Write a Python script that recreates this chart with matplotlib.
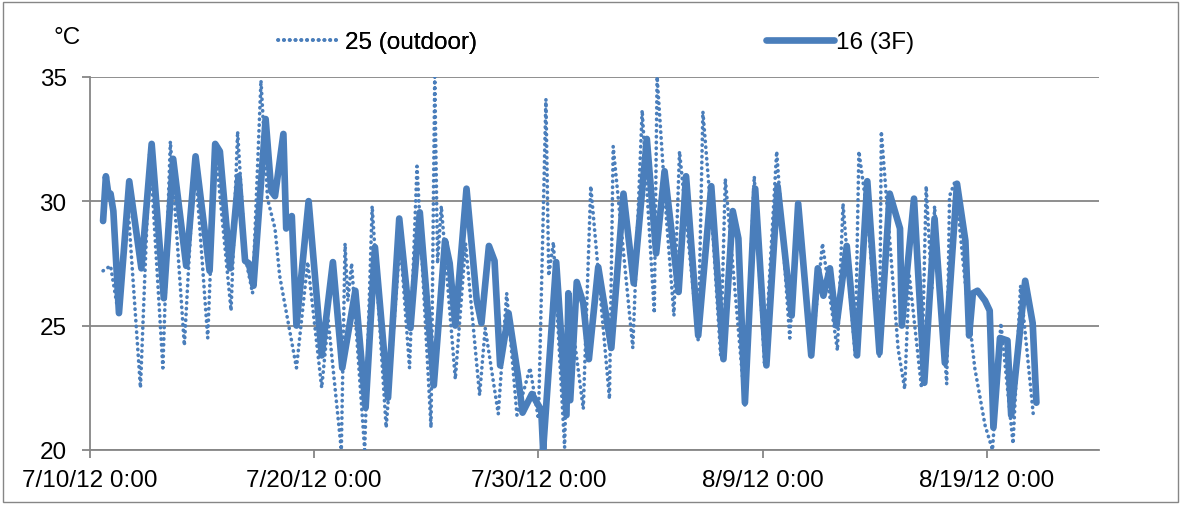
import matplotlib
matplotlib.use("Agg")
import matplotlib.pyplot as plt
from matplotlib.lines import Line2D
from matplotlib.patches import Rectangle
import pandas as pd

plt.rcParams['font.family'] = ['Liberation Sans', 'DejaVu Sans']

START = pd.Timestamp("2012-07-10 00:00")

# Outdoor sensor 25: hours since start, temperature (°C)
outdoor_hours = [14, 22, 29, 41, 54, 64, 78, 86, 101, 112, 126, 134, 151, 158, 166, 174,
                 183, 190, 198, 203, 221, 233, 248, 255, 269, 273, 276, 280, 294, 302,
                 317, 332, 342, 350, 365, 369, 372, 376, 391, 402, 417, 423, 437, 446,
                 457, 471, 480, 488, 491, 496, 508, 512, 528, 536, 556, 560, 581, 591,
                 604, 607, 617, 625, 631, 651, 656, 667, 675, 680, 701, 711, 722, 735,
                 749, 758, 772, 784, 800, 806, 819, 823, 832, 845, 847, 865, 872, 877,
                 890, 895, 901, 904, 917, 920, 926, 936, 947, 958, 966, 975, 988, 996,
                 1010]
outdoor_temp = [27.2, 27.4, 25.8, 29.6, 22.5, 32.1, 23.3, 32.4, 24.2, 31.8, 24.5, 32.2,
                25.6, 32.8, 27.8, 26.3, 34.85, 30.1, 28.9, 27.0, 23.3, 27.55, 22.5, 25.2,
                20.0, 28.3, 26.0, 27.5, 20.0, 29.8, 20.9, 28.4, 23.3, 31.4, 20.9, 35.0,
                27.5, 29.8, 22.85, 28.3, 22.2, 24.9, 21.45, 26.3, 21.4, 23.3, 21.25, 34.1,
                27.0, 28.35, 20.1, 26.3, 21.65, 30.6, 22.05, 32.2, 24.1, 33.65, 25.5, 35.0,
                29.3, 25.4, 32.0, 24.4, 33.6, 28.5, 23.8, 30.9, 21.8, 31.0, 23.4, 32.0,
                24.5, 29.8, 23.65, 28.3, 24.0, 29.9, 23.8, 32.0, 29.5, 23.7, 32.8, 24.06,
                22.45, 27.0, 22.5, 30.6, 26.5, 29.8, 22.65, 30.2, 30.8, 27.0, 23.3, 21.0,
                20.0, 25.1, 20.25, 26.6, 21.3]

# Indoor sensor 16 on the 3rd floor: hours since start, temperature (°C)
floor3_hours = [14, 17, 20, 22, 25, 31, 42, 55, 66, 79, 89, 103, 113, 128, 134, 139, 150,
                159, 166, 170, 175, 188, 194, 198, 207, 210, 216, 221, 234, 248, 260, 270,
                284, 295, 305, 319, 331, 343, 353, 368, 380, 385, 391, 403, 414, 419, 427,
                433, 439, 448, 458, 463, 473, 483, 485, 499, 510, 512, 514, 521, 528, 534,
                544, 558, 571, 582, 596, 606, 615, 630, 638, 651, 665, 678, 688, 694, 701,
                712, 724, 736, 751, 758, 772, 779, 785, 792, 799, 810, 821, 832, 845, 856,
                867, 869, 882, 893, 904, 915, 928, 937, 941, 945, 950, 958, 963, 967, 974,
                982, 986, 1001, 1009, 1013]
floor3_temp = [29.2, 31.0, 30.2, 30.3, 29.6, 25.5, 30.8, 27.3, 32.3, 26.1, 31.7, 27.4,
               31.8, 27.2, 32.3, 32.0, 27.3, 31.0, 27.6, 27.5, 26.6, 33.3, 30.4, 30.2,
               32.7, 28.9, 29.4, 25.0, 30.0, 23.8, 27.55, 23.3, 26.4, 21.7, 28.15, 22.1,
               29.3, 24.9, 29.55, 22.6, 28.4, 27.5, 25.0, 30.5, 26.0, 25.1, 28.2, 27.6,
               23.4, 25.5, 23.0, 21.5, 22.25, 21.6, 20.0, 27.55, 21.4, 26.3, 22.0, 26.75,
               25.9, 23.65, 27.35, 24.1, 30.3, 26.7, 32.5, 27.9, 31.2, 26.35, 31.0, 24.6,
               30.6, 23.65, 29.6, 28.5, 21.9, 30.5, 23.4, 30.6, 25.4, 29.9, 23.8, 27.3,
               26.2, 27.3, 25.0, 28.2, 23.8, 30.8, 23.9, 30.3, 28.9, 25.0, 30.1, 22.7,
               29.3, 23.5, 30.7, 28.4, 24.6, 26.3, 26.4, 26.0, 25.6, 20.9, 24.5, 24.4,
               21.4, 26.8, 25.1, 21.9]

tick_dates = ["2012-07-10", "2012-07-20", "2012-07-30", "2012-08-09", "2012-08-19"]
tick_labels = ["7/10/12 0:00", "7/20/12 0:00", "7/30/12 0:00", "8/9/12 0:00", "8/19/12 0:00"]
y_ticks = [20, 25, 30, 35]
series_names = ["25 (outdoor)", "16 (3F)"]

BLUE = "#4a7ebb"
GRAY = "#868686"
FS = 17.5

t_out = START + pd.to_timedelta(outdoor_hours, unit="h")
t_3f = START + pd.to_timedelta(floor3_hours, unit="h")

fig = plt.figure(figsize=(11.82, 5.06), dpi=100)
ax = fig.add_axes([90 / 1182, 1 - 451 / 506, (1099 - 90) / 1182, (451 - 77.7) / 506])

dot_style = dict(color=BLUE, lw=2.6, linestyle=(0, (0.1, 1.5)), dash_capstyle="round")
solid_style = dict(color=BLUE, lw=4.8, solid_joinstyle="round", solid_capstyle="round")

ax.plot(t_out, outdoor_temp, zorder=3, **dot_style)
ax.plot(t_3f, floor3_temp, zorder=4, **solid_style)

ax.set_xlim(START, pd.Timestamp("2012-08-24 00:00"))
ax.set_ylim(20, 35)
ax.set_yticks(y_ticks)
ax.set_xticks(pd.to_datetime(tick_dates))
ax.set_xticklabels(tick_labels)

ax.grid(axis="y", color=GRAY, lw=1.3)
ax.set_axisbelow(True)
for side in ("top", "right"):
    ax.spines[side].set_visible(False)
for side in ("left", "bottom"):
    ax.spines[side].set_color(GRAY)
    ax.spines[side].set_linewidth(1.3)
ax.tick_params(axis="both", direction="out", length=5.8, width=1.3, color=GRAY,
               labelsize=FS, labelcolor="black")
ax.tick_params(axis="x", pad=8)
ax.tick_params(axis="y", pad=11)

fig.text(67 / 1182, 1 - 38 / 506, "°C", fontsize=FS, ha="center", va="center")

h_out = Line2D([], [], **dot_style)
h_3f = Line2D([], [], **solid_style)
leg1 = fig.legend(handles=[h_out], labels=[series_names[0]], loc="center left",
                  bbox_to_anchor=(278 / 1182, 1 - 43 / 506), frameon=False, fontsize=FS,
                  borderpad=0, borderaxespad=0, handlelength=2.5, handletextpad=0.25)
fig.add_artist(leg1)
fig.legend(handles=[h_3f], labels=[series_names[1]], loc="center left",
           bbox_to_anchor=(766 / 1182, 1 - 43 / 506), frameon=False, fontsize=FS,
           borderpad=0, borderaxespad=0, handlelength=2.8, handletextpad=0.1)

fig.patches.append(Rectangle((3 / 1182, 3 / 506), 1175 / 1182, 500 / 506,
                             transform=fig.transFigure, fill=False, edgecolor=GRAY, lw=1.0))

fig.savefig("out.png", dpi=100)
